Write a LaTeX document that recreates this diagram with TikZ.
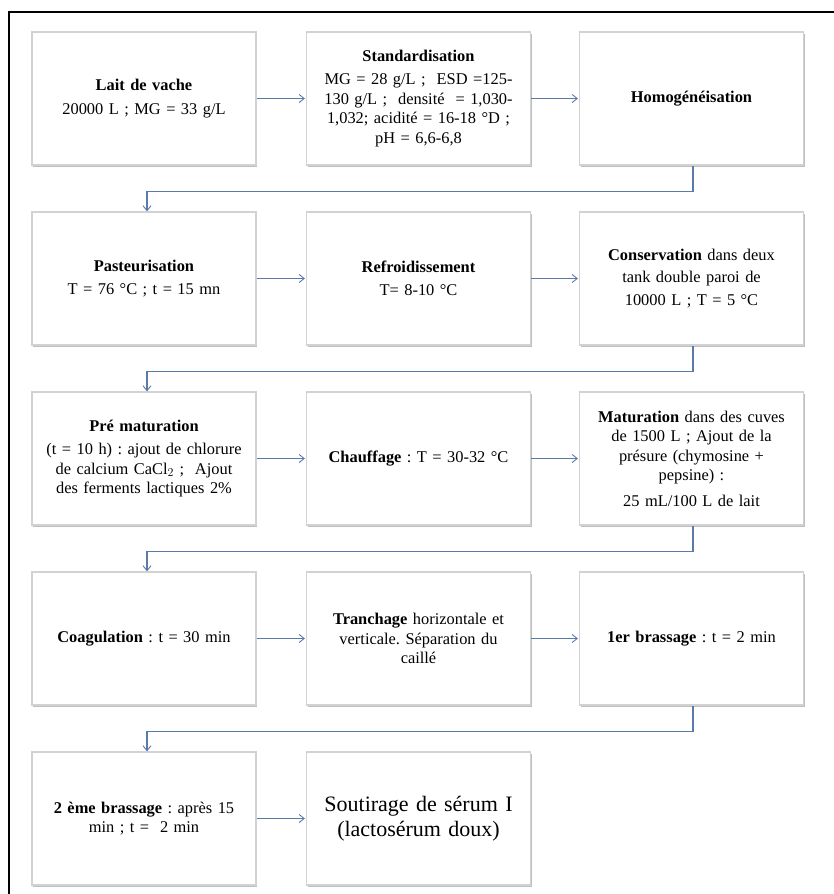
\documentclass[tikz,border=0pt]{standalone}
\usepackage{fontspec}
\setmainfont{Liberation Serif}
\usetikzlibrary{arrows.meta,shadows}
\definecolor{conncol}{HTML}{5A7AAA}
\definecolor{boxline}{HTML}{D2D2D2}
\tikzset{
  stepbox/.style={draw=boxline, line width=1.2pt, fill=white,
    minimum width=224pt, minimum height=133pt, inner sep=4pt,
    text width=216pt, align=center,
    font=\fontsize{16.4}{19.5}\selectfont\frenchspacing,
    drop shadow={shadow xshift=1.3pt, shadow yshift=-1.6pt, fill=black!55, opacity=0.45}},
  conn/.style={draw=conncol, line width=1.1pt,
    -{Straight Barb[length=5pt,width=8pt,line width=0.9pt]}},
  frameline/.style={draw=black, line width=1.6pt}
}
\begin{document}
\begin{tikzpicture}[x=1pt,y=-1pt]
\useasboundingbox (0,0) rectangle (834,894);
\fill[white] (0,0) rectangle (834,894);
\draw[frameline] (9,894) -- (9,12) -- (834,12);

% row 1
\node[stepbox] (b1) at (144,98.5) {\textbf{Lait de vache}\\[5pt] 20000 L ; MG = 33 g/L};
\node[stepbox] (b2) at (418.5,98.5) {\textbf{Standardisation}\\[4pt] MG = 28 g/L ;\ \ ESD =125-\\ 130 g/L ;\ \ densité\ \ = 1,030-\\ 1,032; acidité = 16-18 °D ;\\ pH = 6,6-6,8};
\node[stepbox] (b3) at (691.5,98.5) {\textbf{Homogénéisation}};
% row 2
\node[stepbox] (b4) at (144,278.5) {\textbf{Pasteurisation}\\[4pt] T = 76 °C ; t = 15 mn};
\node[stepbox] (b5) at (418.5,278.5) {\textbf{Refroidissement}\\[4pt] T= 8-10 °C};
\node[stepbox] (b6) at (691.5,278.5) {\textbf{Conservation} dans deux\\[3pt] tank double paroi de\\[3pt] 10000 L ; T = 5 °C};
% row 3
\node[stepbox] (b7) at (144,458.5) {\textbf{Pré maturation}\\[4pt] (t = 10 h) : ajout de chlorure\\ de calcium CaCl$_2$ ;\ \ Ajout\\ des ferments lactiques 2\%};
\node[stepbox] (b8) at (418.5,458.5) {\textbf{Chauffage} : T = 30-32 °C};
\node[stepbox] (b9) at (691.5,458.5) {\textbf{Maturation} dans des cuves\\ de 1500 L ; Ajout de la\\ présure (chymosine +\\ pepsine) :\\[6pt] 25 mL/100 L de lait};
% row 4
\node[stepbox] (b10) at (144,638.5) {\textbf{Coagulation} : t = 30 min};
\node[stepbox] (b11) at (418.5,638.5) {\textbf{Tranchage} horizontale et\\ verticale. Séparation du\\ caillé};
\node[stepbox] (b12) at (691.5,638.5) {\textbf{1er brassage} : t = 2 min};
% row 5
\node[stepbox] (b13) at (144,818.5) {\textbf{2 ème brassage} : après 15\\ min ; t =\ \ 2 min};
\node[stepbox, font=\fontsize{22}{25}\selectfont] (b14) at (418.5,818.5) {Soutirage de sérum I\\ (lactosérum doux)};

% horizontal arrows
\foreach \a/\b in {b1/b2,b2/b3,b4/b5,b5/b6,b7/b8,b8/b9,b10/b11,b11/b12,b13/b14}{
  \draw[conn, shorten >=1pt] (\a) -- (\b);
}
% row-to-row connectors
\foreach \a/\b in {b3/b4,b6/b7,b9/b10,b12/b13}{
  \draw[conn] ([xshift=1.5pt]\a.south) -- ++(0,26) -| ([xshift=3pt]\b.north);
}
\end{tikzpicture}
\end{document}
